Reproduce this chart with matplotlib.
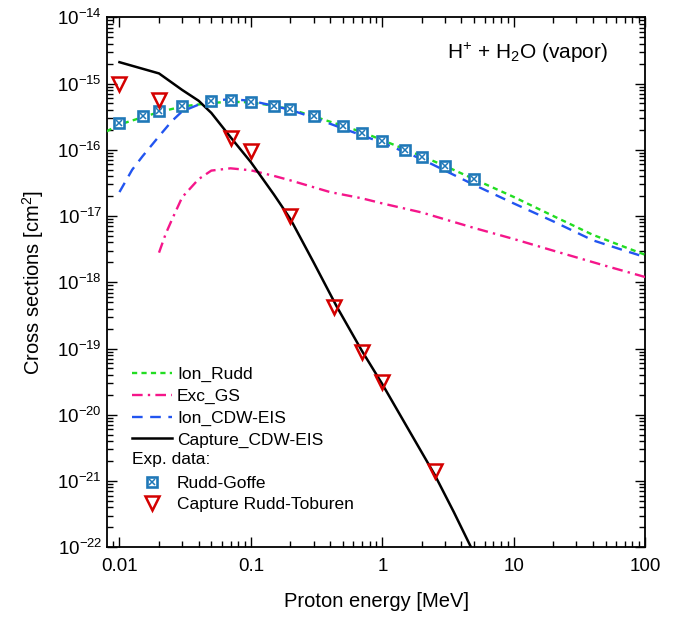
import numpy as np
import matplotlib
matplotlib.use('Agg')
import matplotlib.pyplot as plt
from matplotlib.lines import Line2D
from matplotlib.ticker import LogLocator, FuncFormatter, NullFormatter

# --- data (energy in MeV, cross section in cm^2) ---
rudd_E = [0.008, 0.01, 0.015, 0.02, 0.03, 0.05, 0.07, 0.1, 0.15, 0.2, 0.3,
          0.5, 0.7, 1, 2, 3, 5, 10, 20, 40, 70, 100]
rudd_sig = [1.9e-16, 2.4e-16, 3.1e-16, 3.7e-16, 4.5e-16, 5.1e-16, 5.3e-16,
            5.2e-16, 4.6e-16, 4.1e-16, 3.2e-16, 2.3e-16, 1.85e-16, 1.4e-16,
            8e-17, 5.7e-17, 3.6e-17, 1.94e-17, 1.0e-17, 5.2e-18, 3.4e-18,
            2.6e-18]

exc_E = [0.02, 0.0225, 0.025, 0.03, 0.04, 0.05, 0.07, 0.1, 0.15, 0.2, 0.4,
         0.7, 1, 2, 5, 10, 20, 50, 100]
exc_sig = [2.8e-18, 5.4e-18, 8.7e-18, 1.92e-17, 3.6e-17, 4.85e-17, 5.25e-17,
           4.9e-17, 4.03e-17, 3.45e-17, 2.3e-17, 1.85e-17, 1.55e-17, 1.13e-17,
           6.6e-18, 4.5e-18, 3.0e-18, 1.77e-18, 1.2e-18]

cdw_E = [0.01, 0.0125, 0.015, 0.02, 0.025, 0.03, 0.04, 0.05, 0.07, 0.1, 0.15,
         0.2, 0.3, 0.5, 0.7, 1, 2, 5, 10, 20, 40, 70, 100]
cdw_sig = [2.3e-17, 5e-17, 8e-17, 1.6e-16, 2.7e-16, 3.8e-16, 4.8e-16, 5.5e-16,
           5.8e-16, 5.5e-16, 4.6e-16, 4.0e-16, 3.05e-16, 2.1e-16, 1.65e-16,
           1.28e-16, 7.2e-17, 2.95e-17, 1.55e-17, 8.3e-18, 4.3e-18, 3.0e-18,
           2.4e-18]

cap_E = [0.01, 0.02, 0.03, 0.04, 0.05, 0.07, 0.1, 0.15, 0.2, 0.3, 0.45, 0.7,
         1, 1.5, 2.5, 3.5, 5]
cap_sig = [2.1e-15, 1.42e-15, 8e-16, 5.5e-16, 3.6e-16, 1.55e-16, 6.5e-17,
           2.1e-17, 9e-18, 2.0e-18, 4.3e-19, 9.2e-20, 2.9e-20, 7.2e-21,
           1.25e-21, 3.4e-22, 8e-23]

goffe_E = [0.01, 0.015, 0.02, 0.03, 0.05, 0.07, 0.1, 0.15, 0.2, 0.3, 0.5,
           0.7, 1, 1.5, 2, 3, 5]
goffe_sig = [2.5e-16, 3.2e-16, 3.85e-16, 4.6e-16, 5.46e-16, 5.66e-16,
             5.34e-16, 4.6e-16, 4.13e-16, 3.2e-16, 2.26e-16, 1.8e-16,
             1.36e-16, 9.8e-17, 7.7e-17, 5.6e-17, 3.56e-17]

toburen_E = [0.01, 0.02, 0.07, 0.1, 0.2, 0.43, 0.7, 1, 2.5]
toburen_sig = [1e-15, 5.6e-16, 1.5e-16, 9.6e-17, 1e-17, 4.3e-19, 9e-20,
               3.1e-20, 1.4e-21]

x_ticks = [0.01, 0.1, 1, 10, 100]
x_ticklabels = ['0.01', '0.1', '1', '10', '100']

plt.rcParams['font.family'] = ['Liberation Sans', 'DejaVu Sans']
plt.rcParams['mathtext.fontset'] = 'custom'
plt.rcParams['mathtext.rm'] = 'Liberation Sans'
plt.rcParams['mathtext.it'] = 'Liberation Sans:italic'
plt.rcParams['mathtext.default'] = 'regular'


def ytick_fmt(y, pos):
    return r'$10^{%d}$' % int(round(np.log10(y)))


def main():
    fig = plt.figure(figsize=(6.82, 6.17), dpi=100)
    ax = fig.add_axes([0.157, 0.113, 0.789, 0.859])

    c_green = '#22dd22'
    c_pink = '#f5168a'
    c_blue = '#2255f0'
    c_sq = '#1f78b8'
    c_tri = '#d40000'

    l1, = ax.plot(rudd_E, rudd_sig, color=c_green, lw=1.7,
                  linestyle=(0, (2.2, 1.8)), zorder=3)
    l2, = ax.plot(exc_E, exc_sig, color=c_pink, lw=1.7,
                  linestyle=(0, (4.5, 2.2, 1.0, 2.2)), zorder=3)
    l3, = ax.plot(cdw_E, cdw_sig, color=c_blue, lw=1.7,
                  linestyle=(0, (4.5, 3.2)), zorder=3)
    l4, = ax.plot(cap_E, cap_sig, color='black', lw=1.8, zorder=4)

    s1, = ax.plot(goffe_E, goffe_sig, 's', ms=7.5, mfc='white', mec=c_sq,
                  mew=1.9, zorder=5)
    s2, = ax.plot(goffe_E, goffe_sig, 'x', ms=5, mec=c_sq, mew=1.1, zorder=6)
    t1, = ax.plot(toburen_E, toburen_sig, 'v', ms=10, mfc='none', mec=c_tri,
                  mew=1.8, zorder=6)

    ax.set_xscale('log')
    ax.set_yscale('log')
    ax.set_xlim(0.00805, 100)
    ax.set_ylim(1e-22, 1e-14)

    ax.set_xticks(x_ticks)
    ax.set_xticklabels(x_ticklabels)
    ax.xaxis.set_minor_locator(LogLocator(base=10, subs=np.arange(2, 10)))
    ax.xaxis.set_minor_formatter(NullFormatter())
    ax.yaxis.set_major_locator(LogLocator(base=10, numticks=20))
    ax.yaxis.set_minor_locator(LogLocator(base=10, subs=np.arange(2, 10),
                                          numticks=20))
    ax.yaxis.set_major_formatter(FuncFormatter(ytick_fmt))
    ax.yaxis.set_minor_formatter(NullFormatter())

    ax.tick_params(which='both', direction='in', top=True, right=True,
                   labelsize=13.5, width=1.0)
    ax.tick_params(which='major', length=7)
    ax.tick_params(which='minor', length=4)
    ax.tick_params(axis='x', pad=8)
    for sp in ax.spines.values():
        sp.set_linewidth(1.3)

    ax.set_xlabel('Proton energy [MeV]', fontsize=14.5, labelpad=12)
    ax.set_ylabel('Cross sections [cm$^2$]', fontsize=14.5, labelpad=8)

    ax.text(0.93, 0.932, 'H$^{+}$ + H$_{2}$O (vapor)', transform=ax.transAxes,
            fontsize=15, ha='right', va='center')

    blank = Line2D([], [], linestyle='none')
    handles = [l1, l2, l3, l4, blank, (s1, s2), t1]
    labels = ['Ion_Rudd', 'Exc_GS', 'Ion_CDW-EIS', 'Capture_CDW-EIS', ' ',
              'Rudd-Goffe', 'Capture Rudd-Toburen']
    ax.legend(handles, labels, loc='lower left', bbox_to_anchor=(0.046, 0.066),
              frameon=False, fontsize=12.5, borderpad=0, borderaxespad=0,
              handlelength=2.3, handletextpad=0.3, labelspacing=0.37,
              numpoints=1)
    ax.text(0.046, 0.166, 'Exp. data:', transform=ax.transAxes,
            fontsize=12.5, ha='left', va='center')

    plt.savefig('out.png', dpi=100)


if __name__ == '__main__':
    main()
